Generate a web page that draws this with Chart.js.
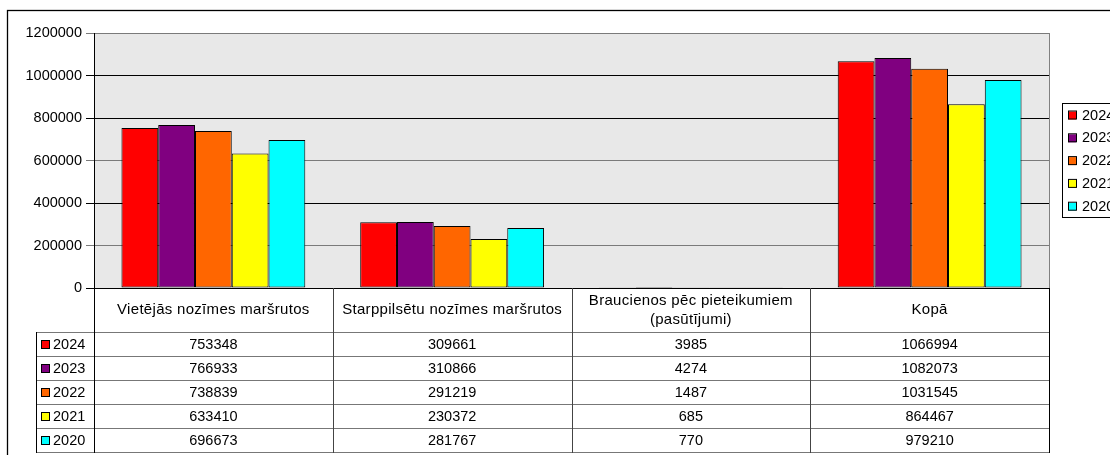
<!DOCTYPE html>
<html>
<head>
<meta charset="utf-8">
<script src="https://cdn.jsdelivr.net/npm/chart.js@4.4.1/dist/chart.umd.min.js"></script>
<style>
	html, body { margin: 0; padding: 0; background: #fff; }
	canvas { display: block; }
</style>
</head>
<body>
<canvas id="grafiks" width="1110" height="455"></canvas>
<script>
const kategorijas = ['Vietējās nozīmes maršrutos', 'Starppilsētu nozīmes maršrutos', ['Braucienos pēc pieteikumiem', '(pasūtījumi)'], 'Kopā'];
const gadi = ['2024', '2023', '2022', '2021', '2020'];
const v2024 = [753348, 309661, 3985, 1066994];
const v2023 = [766933, 310866, 4274, 1082073];
const v2022 = [738839, 291219, 1487, 1031545];
const v2021 = [633410, 230372, 685, 864467];
const v2020 = [696673, 281767, 770, 979210];
const yTicks = [0, 200000, 400000, 600000, 800000, 1000000, 1200000];

(() => {

	const krasas = ['#ff0000', '#800080', '#ff6600', '#ffff00', '#00ffff'];
	const vertibas = [v2024, v2023, v2022, v2021, v2020];
	const saime = '"Liberation Sans", Arial, sans-serif';
	const fonts = '14.5px ' + saime;
	const galvasFonts = '15px ' + saime;

	const tabulaPlugin = {
		id: 'tabula',
		beforeDraw(chart) {
			const { ctx, chartArea: a } = chart;
			ctx.save();
			ctx.fillStyle = '#fff';
			ctx.fillRect(0, 0, chart.width, chart.height);
			ctx.fillStyle = '#e8e8e8';
			ctx.fillRect(a.left, a.top, a.right - a.left, a.bottom - a.top);
			// outer frame
			ctx.strokeStyle = '#000';
			ctx.lineWidth = 1.3;
			ctx.strokeRect(7.5, 10.5, 1200, 600);
			ctx.restore();
		},
		afterDraw(chart) {
			const { ctx, chartArea: a } = chart;
			const x = chart.scales.x;
			const plat = (a.right - a.left) / kategorijas.length;
			const rinda = 24;
			const galvaBeigas = 332;
			const apaksa = galvaBeigas + rinda * gadi.length;

			ctx.save();
			ctx.lineWidth = 1;

			// plot right border
			ctx.strokeStyle = '#808080';
			ctx.beginPath();
			ctx.moveTo(Math.round(a.right) + 0.5, a.top);
			ctx.lineTo(Math.round(a.right) + 0.5, a.bottom);
			ctx.stroke();

			// horizontal table lines
			ctx.strokeStyle = '#777';
			for (let i = 0; i <= gadi.length; i++) {
				const y = galvaBeigas + i * rinda + 0.5;
				ctx.beginPath();
				ctx.moveTo(36, y);
				ctx.lineTo(Math.round(a.right) + 1, y);
				ctx.stroke();
			}

			// axis line
			ctx.strokeStyle = '#000';
			ctx.beginPath();
			ctx.moveTo(a.left, Math.round(a.bottom) + 0.5);
			ctx.lineTo(a.right + 1, Math.round(a.bottom) + 0.5);
			ctx.stroke();

			// vertical lines
			ctx.beginPath();
			ctx.moveTo(36.5, galvaBeigas);
			ctx.lineTo(36.5, apaksa + 1);
			ctx.stroke();
			for (let i = 0; i <= kategorijas.length; i++) {
				const xx = Math.round(x.getPixelForValue(i) - plat / 2) + 0.5;
				ctx.strokeStyle = (i === 0 || i === kategorijas.length) ? '#000' : '#444';
				ctx.beginPath();
				ctx.moveTo(xx, a.bottom);
				ctx.lineTo(xx, apaksa + 1);
				ctx.stroke();
			}

			// header texts
			ctx.font = galvasFonts;
			ctx.letterSpacing = '0.3px';
			ctx.fillStyle = '#000';
			ctx.textAlign = 'center';
			ctx.textBaseline = 'middle';
			const galvaVidus = (a.bottom + galvaBeigas) / 2;
			kategorijas.forEach((k, i) => {
				const cx = x.getPixelForValue(i);
				const rindas = Array.isArray(k) ? k : [k];
				rindas.forEach((t, j) => {
					ctx.fillText(t, cx, galvaVidus + (j - (rindas.length - 1) / 2) * 19);
				});
			});
			ctx.letterSpacing = '0px';

			// rows
			ctx.font = fonts;
			gadi.forEach((g, r) => {
				const cy = galvaBeigas + r * rinda + rinda / 2 + 1;
				ctx.fillStyle = krasas[r];
				ctx.fillRect(41, cy - 4, 8, 8);
				ctx.strokeStyle = '#000';
				ctx.strokeRect(41.5, cy - 4.5, 8, 8);
				ctx.fillStyle = '#000';
				ctx.textAlign = 'left';
				ctx.fillText(g, 53, cy);
				ctx.textAlign = 'center';
				vertibas[r].forEach((v, i) => {
					ctx.fillText(String(v), x.getPixelForValue(i), cy);
				});
			});

			// legend
			ctx.strokeStyle = '#000';
			ctx.strokeRect(1062.5, 103.5, 80, 114);
			gadi.forEach((g, r) => {
				const cy = 115.5 + r * 22.8;
				ctx.fillStyle = krasas[r];
				ctx.fillRect(1068, cy - 4, 8, 8);
				ctx.strokeRect(1068.5, cy - 4.5, 8, 8);
				ctx.fillStyle = '#000';
				ctx.textAlign = 'left';
				ctx.fillText(g, 1082, cy);
			});

			ctx.restore();
		}
	};

	const gridKrasa = (c) => {
		const v = c.tick ? c.tick.value : 0;
		return (v === 200000 || v === 600000 || v === 1200000) ? '#7a7a7a' : '#000';
	};

	new Chart('grafiks', {
		type: 'bar',
		data: {
			labels: kategorijas,
			datasets: gadi.map((g, i) => ({
				label: g,
				data: vertibas[i],
				backgroundColor: krasas[i],
				borderColor: '#000',
				borderWidth: 1,
				borderSkipped: false,
				categoryPercentage: 0.77,
				barPercentage: 1
			}))
		},
		options: {
			responsive: false,
			animation: false,
			events: [],
			layout: {
				padding: { left: 0, top: 33, right: 61, bottom: 167 }
			},
			plugins: {
				legend: { display: false },
				tooltip: { enabled: false }
			},
			scales: {
				x: { display: false },
				y: {
					min: 0,
					max: 1200000,
					afterFit: (s) => { s.width = 94; },
					afterBuildTicks: (s) => { s.ticks = yTicks.map(v => ({ value: v })); },
					border: { display: true, color: '#000', width: 1 },
					grid: { color: gridKrasa, tickLength: 8, lineWidth: 1 },
					ticks: {
						color: '#000',
						padding: 4,
						font: { family: saime, size: 14.5 },
						callback: (v) => String(v)
					}
				}
			}
		},
		plugins: [tabulaPlugin]
	});
})();
</script>
</body>
</html>
